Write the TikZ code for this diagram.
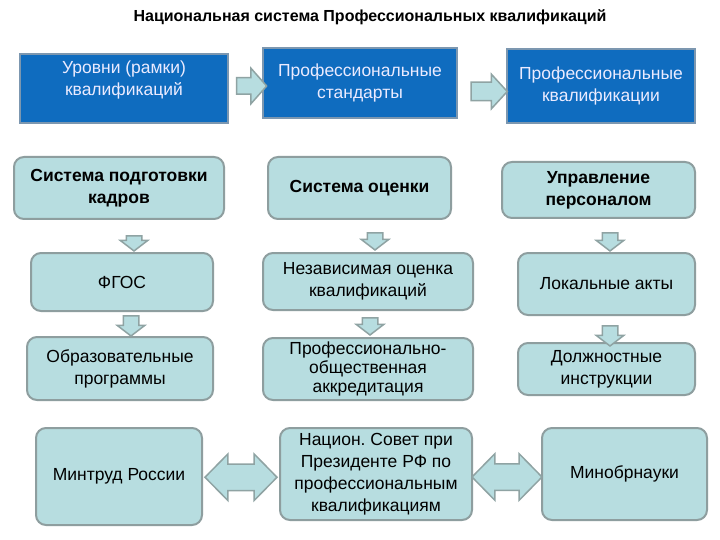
\documentclass[tikz,border=0pt]{standalone}
\usepackage{fontspec}
\setmainfont{Liberation Sans}
\usetikzlibrary{shapes.arrows,calc}
\definecolor{bluefill}{HTML}{0F6CBF}
\definecolor{blueline}{HTML}{7C97B0}
\definecolor{tealfill}{HTML}{B7DDE0}
\definecolor{tealline}{HTML}{8E9E9F}
\definecolor{arrowline}{HTML}{8FA3A3}
\frenchspacing
\begin{document}
\begin{tikzpicture}[x=1pt,y=-1pt,
  every node/.style={font=\fontsize{17.5}{22}\selectfont, align=center},
  bluebox/.style={draw=blueline, fill=bluefill, line width=1.5pt, inner sep=0pt},
  bluetext/.style={text=white!92!blue},
  tealbox/.style={draw=tealline, fill=tealfill, line width=2pt, rounded corners=10pt, inner sep=0pt},
  boldtext/.style={font=\fontsize{17.5}{22}\selectfont\bfseries},
  rarrow/.style={single arrow, draw=arrowline, fill=tealfill, line width=1.5pt,
    inner xsep=0pt, single arrow head indent=0pt},
  darrow/.style={single arrow, draw=arrowline, fill=tealfill, line width=1.5pt,
    inner xsep=0pt, inner ysep=7pt, single arrow head extend=6pt,
    single arrow tip angle=105, single arrow head indent=0pt, rotate=-90},
  dblarrow/.style={double arrow, draw=arrowline, fill=tealfill, line width=1.5pt,
    inner xsep=0pt, inner ysep=12.5pt, double arrow head extend=10pt,
    double arrow tip angle=91, double arrow head indent=0pt, minimum height=72pt}
]
\useasboundingbox (0,0) rectangle (720,540);
\fill[white] (0,0) rectangle (720,540);

% title
\node[font=\fontsize{16}{19}\selectfont\bfseries] (title) at (370,17)
  {Национальная система Профессиональных квалификаций};

% top row (blue)
\node[bluebox, minimum width=208pt, minimum height=69pt] (b1) at (124,88.5) {};
\node[bluetext] (b1t) at (124,80) {Уровни (рамки)\\квалификаций};
\node[bluebox, bluetext, minimum width=194pt, minimum height=70pt] (b2) at (360,83)
  {Профессиональные\\стандарты};
\node[bluebox, bluetext, minimum width=188pt, minimum height=74pt] (b3) at (601,86)
  {Профессиональные\\квалификации};

\node[rarrow, inner ysep=7.5pt, single arrow head extend=9.5pt,
  single arrow tip angle=97, minimum height=30pt] (a12) at (248,86) {};
\node[rarrow, inner ysep=8.5pt, single arrow head extend=8pt,
  single arrow tip angle=95, minimum height=36pt] (a23) at (485,91.5) {};

% row 2
\node[tealbox, boldtext, minimum width=210pt, minimum height=62pt] (s1) at (119,188)
  {Система подготовки\\кадров};
\node[tealbox, boldtext, minimum width=183pt, minimum height=62pt] (s2) at (359.5,188)
  {Система оценки};
\node[tealbox, boldtext, minimum width=193pt, minimum height=56pt] (s3) at (598.5,190)
  {Управление\\персоналом};

% row 3
\node[tealbox, minimum width=182pt, minimum height=58pt] (f1) at (122,282) {ФГОС};
\node[tealbox, minimum width=210pt, minimum height=57pt] (f2) at (368,281.5)
  {Независимая оценка\\квалификаций};
\node[tealbox, minimum width=177pt, minimum height=62pt] (f3) at (606.5,284)
  {Локальные акты};

% row 4
\node[tealbox, minimum width=186pt, minimum height=63pt] (o1) at (120,368.5)
  {Образовательные\\программы};
\node[tealbox, font=\fontsize{17.5}{19}\selectfont, minimum width=210pt, minimum height=62pt] (o2) at (368,369)
  {Профессионально-\\общественная\\аккредитация};
\node[tealbox, minimum width=177pt, minimum height=52pt] (o3) at (606.5,369)
  {Должностные\\инструкции};

% down arrows
\node[darrow, minimum height=15pt] (d1) at (134,240.5) {};
\node[darrow, minimum height=20pt] (d2) at (131,323) {};
\node[darrow, minimum height=17pt] (d3) at (375,238.5) {};
\node[darrow, minimum height=17pt] (d4) at (370,323.5) {};
\node[darrow, minimum height=18pt] (d5) at (610,239) {};
\node[darrow, minimum height=20pt] (d6) at (610,333) {};

% row 5
\node[tealbox, minimum width=166pt, minimum height=97pt] (m1) at (119,476.5)
  {Минтруд России};
\node[tealbox, minimum width=192pt, minimum height=92pt] (m2) at (376,474)
  {Национ. Совет при\\Президенте РФ по\\профессиональным\\квалификациям};
\node[tealbox, minimum width=165pt, minimum height=92pt] (m3) at (624.5,474)
  {Минобрнауки};

\node[dblarrow] (da1) at ($(m1.east)!0.5!(m2.west)+(0,2)$) {};
\node[dblarrow, minimum height=70pt] (da2) at ($(m2.east)!0.5!(m3.west)+(0,3)$) {};
\end{tikzpicture}
\end{document}
